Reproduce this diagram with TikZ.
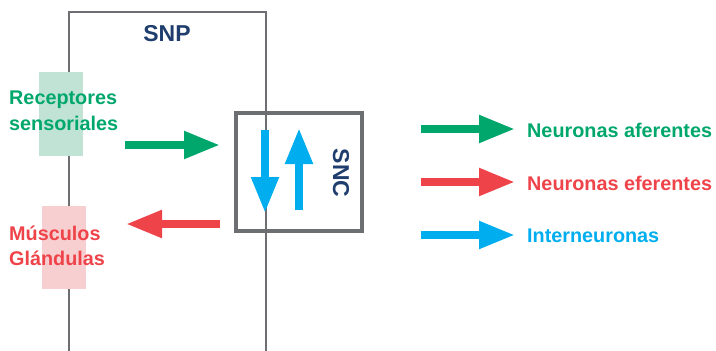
\documentclass[tikz,border=0pt]{standalone}
\usepackage{fontspec}
\setmainfont{Liberation Sans}
\usetikzlibrary{arrows.meta}
\definecolor{frame}{RGB}{109,110,113}
\definecolor{navy}{RGB}{31,62,110}
\definecolor{afgreen}{RGB}{0,167,108}
\definecolor{efred}{RGB}{239,67,74}
\definecolor{inblue}{RGB}{0,174,239}
\definecolor{lightgreen}{RGB}{193,227,214}
\definecolor{lightpink}{RGB}{248,207,209}
\tikzset{
  flow/.style={line width=8pt, line cap=butt, -{Triangle[length=36pt,width=26pt]}},
  lbl/.style={font=\fontsize{19.8}{25.5}\selectfont\bfseries, inner sep=0pt, align=left},
  title/.style={font=\fontsize{23}{27}\selectfont\bfseries, text=navy, inner sep=0pt},
}
\begin{document}
\begin{tikzpicture}[x=1pt,y=-1pt]
\useasboundingbox (0,0) rectangle (716,351);
% peripheral nervous system frame (open at the bottom)
\draw[frame, line width=2.7pt] (69,351) -- (69,12) -- (266,12) -- (266,351);
\node[title] (snp) at (167,34) {SNP};
% effector / receptor bands over the left edge
\fill[lightgreen] (39,72) rectangle (83,156);
\fill[lightpink] (42,206) rectangle (86,289);
% central nervous system box
\draw[frame, line width=4pt] (236,113) rectangle (362,231);
\node[title, rotate=-90] (snc) at (341,173) {SNC};
% labels
\node[lbl, text=afgreen, anchor=west] (rec) at (9,111) {Receptores\\sensoriales};
\node[lbl, text=efred, anchor=west] (mus) at (9,246) {Músculos\\Glándulas};
% afferent and efferent pathways
\coordinate (a1) at (125,145); \coordinate (a2) at (220,145);
\coordinate (e1) at (220,224); \coordinate (e2) at (126,224);
\draw[flow, afgreen] (a1) -- (a2);
\draw[flow, efred] (e1) -- (e2);
% interneurons inside the SNC
\coordinate (d1) at (265,130); \coordinate (d2) at (265,213);
\coordinate (u1) at (299,210); \coordinate (u2) at (299,128);
\draw[flow, inblue] (d1) -- (d2);
\draw[flow, inblue] (u1) -- (u2);
% legend
\node[lbl, text=afgreen, anchor=west] (lg1) at (527,130) {Neuronas aferentes};
\node[lbl, text=efred, anchor=west] (lg2) at (527,183) {Neuronas eferentes};
\node[lbl, text=inblue, anchor=west] (lg3) at (527,236) {Interneuronas};
\coordinate (k1) at (421,129); \coordinate (k2) at (421,182); \coordinate (k3) at (421,235);
\draw[flow, afgreen] (k1) -- (k1 -| 515,0);
\draw[flow, efred] (k2) -- (k2 -| 515,0);
\draw[flow, inblue] (k3) -- (k3 -| 515,0);
\end{tikzpicture}
\end{document}
